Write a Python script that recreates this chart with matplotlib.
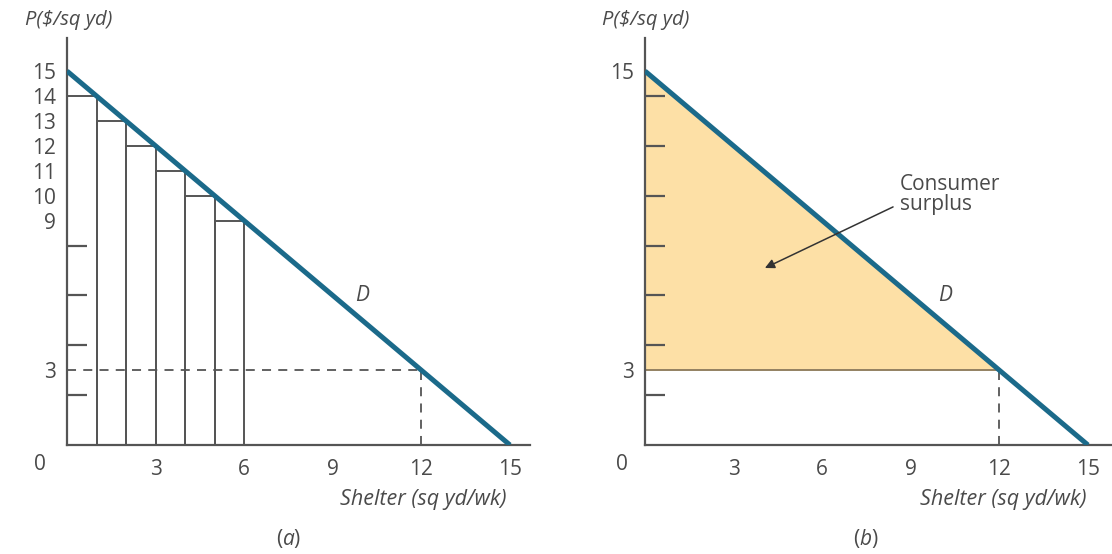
import matplotlib
matplotlib.use("Agg")
import matplotlib.pyplot as plt

plt.rcParams["font.family"] = ["Open Sans", "DejaVu Sans"]
plt.rcParams["mathtext.fontset"] = "custom"
plt.rcParams["mathtext.it"] = "Open Sans:italic"
plt.rcParams["mathtext.rm"] = "Open Sans"

# demand curve for shelter: P = 15 - Q
demand_q = [0, 15]
demand_p = [15, 0]

# step approximation in panel (a): unit blocks and their prices
block_left = [0, 1, 2, 3, 4, 5]
block_price = [14, 13, 12, 11, 10, 9]

market_price = 3
market_qty = 12

a_ytick_labels = [15, 14, 13, 12, 11, 10, 9, 3]
a_ytick_marks = [2, 4, 6, 8, 10, 12, 15]
a_xtick_marks = [9, 15]
b_ytick_labels = [15, 3]
b_ytick_marks = [2, 4, 6, 8, 10, 12, 14]
b_xtick_marks = [3, 6, 9, 15]
xtick_labels = [3, 6, 9, 12, 15]

W, H = 1112, 554
AXIS = "#555555"
TEXT = "#4a4a4a"
BLUE = "#1b6a8a"
FILL = "#fde0a6"

fig = plt.figure(figsize=(W / 100, H / 100), dpi=100)


def px(x, y):
    return x / W, 1 - y / H


def make_axes(left, right, top, bottom, xmax, ymax):
    ax = fig.add_axes([left / W, 1 - bottom / H, (right - left) / W, (bottom - top) / H])
    ax.set_xlim(0, xmax)
    ax.set_ylim(0, ymax)
    for s in ("top", "right"):
        ax.spines[s].set_visible(False)
    for s in ("left", "bottom"):
        ax.spines[s].set_color(AXIS)
        ax.spines[s].set_linewidth(1.6)
    ax.patch.set_alpha(0)
    return ax


def style_ticks(ax, ylabels, ymarks, xmarks):
    ax.set_yticks(ylabels)
    ax.set_yticklabels([str(v) for v in ylabels])
    ax.set_xticks(xtick_labels)
    ax.set_xticklabels([str(v) for v in xtick_labels])
    ax.set_yticks(ymarks, minor=True)
    ax.set_xticks(xmarks, minor=True)
    ax.tick_params(which="major", length=0, labelsize=15, labelcolor=TEXT)
    ax.tick_params(axis="y", which="major", pad=8)
    ax.tick_params(axis="x", which="major", pad=10)
    ax.tick_params(which="minor", direction="in", color=AXIS, width=1.6)
    ax.tick_params(axis="y", which="minor", length=14.5)
    ax.tick_params(axis="x", which="minor", length=11)


# ---- panel (a) ----
ax1 = make_axes(67, 530, 38, 445, 463 / 29.53, 407 / 24.93)
ax1.bar(block_left, block_price, width=1, align="edge", fill=False,
        edgecolor=AXIS, linewidth=1.4, zorder=2)
ax1.plot([0, market_qty], [market_price, market_price], ls=(0, (5, 4)),
         color=AXIS, lw=1.3, zorder=2)
ax1.plot([market_qty, market_qty], [0, market_price], ls=(0, (5, 4)),
         color=AXIS, lw=1.3, zorder=2)
ax1.plot(demand_q, demand_p, color=BLUE, lw=3.6, solid_capstyle="butt", zorder=3)
ax1.text(10.0, 6.0, "D", fontsize=15, style="italic", color=TEXT, ha="center", va="center")
style_ticks(ax1, a_ytick_labels, a_ytick_marks, a_xtick_marks)

# ---- panel (b) ----
ax2 = make_axes(645, 1112, 38, 445, 467 / 29.53, 407 / 24.93)
ax2.fill_between([0, market_qty], [15, market_price], market_price,
                 color=FILL, lw=0, zorder=1)
ax2.plot([0, market_qty], [market_price, market_price], color="#8a7a5c", lw=1.3, zorder=2)
ax2.plot([market_qty, market_qty], [0, market_price], ls=(0, (5, 4)),
         color=AXIS, lw=1.3, zorder=2)
ax2.plot(demand_q, demand_p, color=BLUE, lw=3.6, solid_capstyle="butt", zorder=3)
ax2.text(10.15, 6.0, "D", fontsize=15, style="italic", color=TEXT, ha="center", va="center")
ax2.text(8.62, 10.05, "Consumer\nsurplus", fontsize=15, color=TEXT,
         ha="left", va="center", linespacing=0.95)
ax2.annotate("", xy=(4.06, 7.1), xytext=(8.4, 9.55),
             arrowprops=dict(arrowstyle="-|>", color="#333333", lw=1.1,
                             mutation_scale=14, shrinkA=0, shrinkB=0), zorder=4)
style_ticks(ax2, b_ytick_labels, b_ytick_marks, b_xtick_marks)

# axis titles, origin labels and panel captions
for x_p, x_shelter, x_cap, cap in [(69, 423, 289, "a"), (646, 1003, 866, "b")]:
    fig.text(*px(x_p, 20), "P($/sq yd)", fontsize=14.5, style="italic", color=TEXT,
             ha="center", va="center")
    fig.text(*px(x_shelter, 500), "Shelter (sq yd/wk)", fontsize=15.5, style="italic",
             color=TEXT, ha="center", va="center")
    fig.text(*px(x_cap, 539), "($\\mathit{" + cap + "}$)", fontsize=15, color=TEXT,
             ha="center", va="center")
fig.text(*px(40, 465), "0", fontsize=15, color=TEXT, ha="center", va="center")
fig.text(*px(622, 465), "0", fontsize=15, color=TEXT, ha="center", va="center")

fig.savefig("out.png", dpi=100)
